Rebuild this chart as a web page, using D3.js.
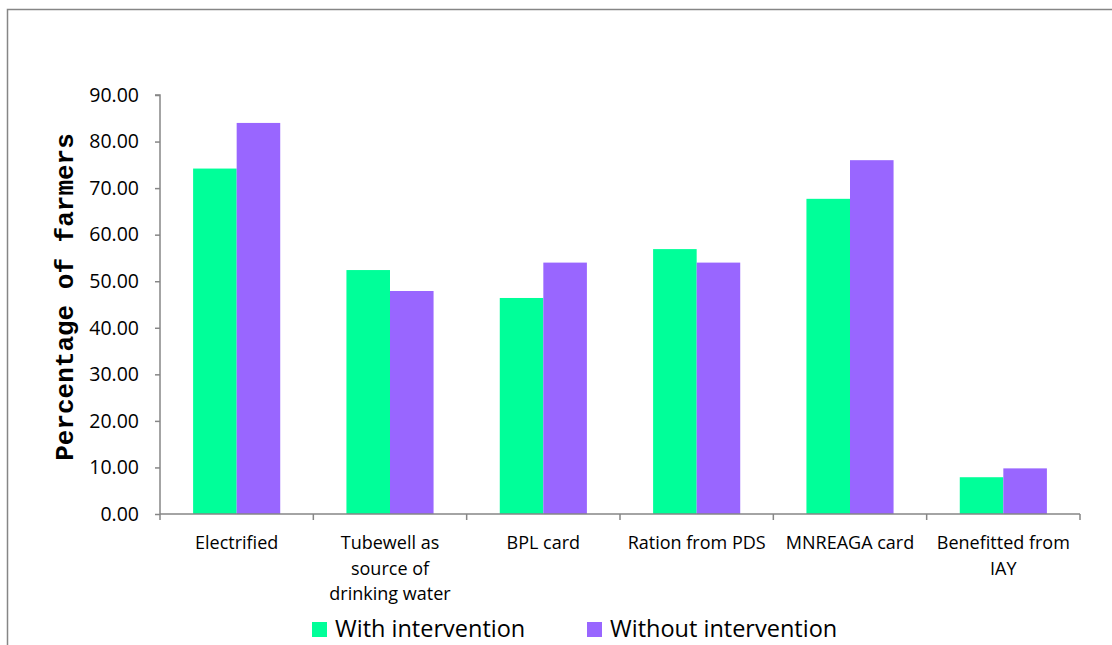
<!DOCTYPE html>
<html>
<head>
<meta charset="utf-8">
<script src="https://cdn.jsdelivr.net/npm/d3@7"></script>
<style>
  html, body { margin: 0; padding: 0; background: #fff; }
  svg { display: block; }
</style>
</head>
<body>
<svg id="chart" width="1112" height="645"></svg>
<script>
const categories = [
  "Electrified",
  "Tubewell as\nsource of\ndrinking water",
  "BPL card",
  "Ration from PDS",
  "MNREAGA card",
  "Benefitted from\nIAY"
];
const seriesNames = ["With intervention", "Without intervention"];
const withIntervention = [74.2, 52.4, 46.4, 56.9, 67.7, 7.9];
const withoutIntervention = [84.0, 47.9, 54.0, 54.0, 76.0, 9.8];
const yTicks = [0, 10, 20, 30, 40, 50, 60, 70, 80, 90];
const colors = ["#00FF99", "#9966FF"];

const svg = d3.select("#chart");
const axisColor = "#868686";
const font = "'Open Sans', sans-serif";

// outer frame (extends beyond the visible window on right/bottom)
svg.append("rect")
  .attr("x", 7.5).attr("y", 9.5)
  .attr("width", 1200).attr("height", 700)
  .attr("fill", "none").attr("stroke", axisColor).attr("stroke-width", 1.5);

const x0 = 160, x1 = 1080, yTop = 95, yBot = 514;
const x = d3.scaleBand().domain(categories).range([x0, x1]).paddingInner(0).paddingOuter(0);
const y = d3.scaleLinear().domain([0, 90]).range([yBot, yTop]);
const inner = d3.scaleBand().domain(seriesNames).range([0, x.bandwidth()]).paddingInner(0).paddingOuter(0.76);

// bars
const series = [withIntervention, withoutIntervention];
series.forEach((vals, si) => {
  svg.append("g").selectAll("rect")
    .data(vals)
    .join("rect")
    .attr("x", (d, i) => x(categories[i]) + inner(seriesNames[si]))
    .attr("y", d => y(d))
    .attr("width", inner.bandwidth())
    .attr("height", d => y(0) - y(d))
    .attr("fill", colors[si]);
});

// y axis
const yAxis = d3.axisLeft(y).tickValues(yTicks).tickFormat(d3.format(".2f")).tickSize(5).tickPadding(16);
const gy = svg.append("g").attr("transform", `translate(${x0},0)`).call(yAxis);
gy.select(".domain").attr("stroke", axisColor).attr("stroke-width", 1.5)
  .attr("d", `M-5,${yTop}H0V${yBot}`);
gy.selectAll(".tick line").attr("stroke", axisColor).attr("stroke-width", 1.5);
gy.selectAll(".tick text").attr("fill", "#000").attr("font-family", font).attr("font-size", 19.5);

// x axis line and ticks at band boundaries
const gx = svg.append("g");
gx.append("line").attr("x1", x0).attr("x2", x1).attr("y1", yBot).attr("y2", yBot)
  .attr("stroke", axisColor).attr("stroke-width", 1.5);
const bounds = categories.map(c => x(c)).concat([x1]);
gx.selectAll("line.tk").data(bounds).join("line").attr("class", "tk")
  .attr("x1", d => d).attr("x2", d => d).attr("y1", yBot).attr("y2", yBot + 6)
  .attr("stroke", axisColor).attr("stroke-width", 1.5);

// category labels
const labels = gx.selectAll("text.cat").data(categories).join("text").attr("class", "cat")
  .attr("text-anchor", "middle")
  .attr("font-family", font).attr("font-size", 18).attr("fill", "#000");
labels.each(function(c) {
  const t = d3.select(this);
  c.split("\n").forEach((line, li) => {
    t.append("tspan").attr("x", x(c) + x.bandwidth() / 2).attr("y", 549 + li * 25.5).text(line);
  });
});

// y axis title
svg.append("text")
  .attr("transform", `translate(73,${297}) rotate(-90)`)
  .attr("text-anchor", "middle")
  .attr("font-family", "'Liberation Mono', 'Courier New', monospace")
  .attr("font-weight", "bold").attr("font-size", 26).attr("fill", "#000")
  .text("Percentage of farmers");

// legend
const legendX = [312, 587];
const lg = svg.append("g");
seriesNames.forEach((name, i) => {
  lg.append("rect").attr("x", legendX[i]).attr("y", 622).attr("width", 15).attr("height", 15).attr("fill", colors[i]);
  lg.append("text").attr("x", legendX[i] + 23).attr("y", 637)
    .attr("font-family", font).attr("font-size", 23.5).attr("fill", "#000").text(name);
});
</script>
</body>
</html>
